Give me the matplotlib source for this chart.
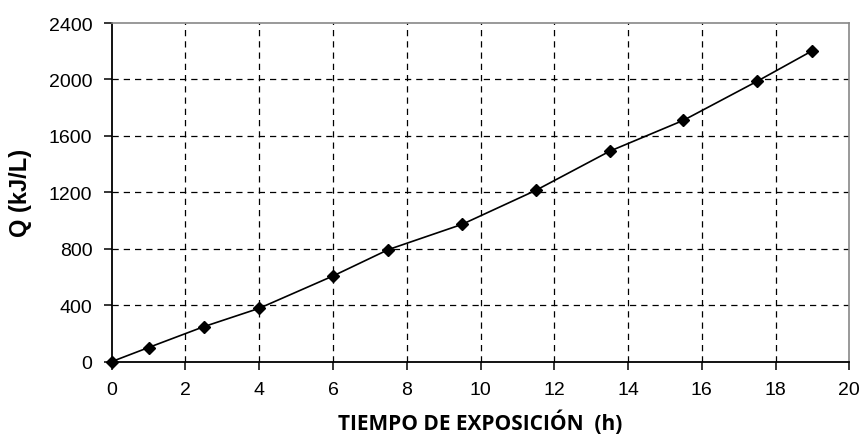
import matplotlib
matplotlib.use("agg")
import matplotlib.pyplot as plt

# data
tiempo_h = [0, 1, 2.5, 4, 6, 7.5, 9.5, 11.5, 13.5, 15.5, 17.5, 19]
q_kj_l = [0, 100, 248, 378, 607, 794, 973, 1214, 1491, 1710, 1987, 2204]

x_ticks = [0, 2, 4, 6, 8, 10, 12, 14, 16, 18, 20]
y_ticks = [0, 400, 800, 1200, 1600, 2000, 2400]

fig = plt.figure(figsize=(8.62, 4.39), dpi=100)
ax = fig.add_axes([0.1296, 0.174, 0.8557, 0.7713])

ax.plot(tiempo_h, q_kj_l, color="black", linewidth=1.2, marker="D",
        markersize=6.5, markerfacecolor="black", clip_on=False, zorder=3)

ax.set_xlim(0, 20)
ax.set_ylim(0, 2400)
ax.set_xticks(x_ticks)
ax.set_yticks(y_ticks)

ax.grid(True, color="black", linestyle=(0, (5, 4)), linewidth=0.9)
ax.set_axisbelow(True)
# no dashed lines on the frame itself
for gl in [ax.xaxis.get_gridlines()[0], ax.xaxis.get_gridlines()[-1],
           ax.yaxis.get_gridlines()[0], ax.yaxis.get_gridlines()[-1]]:
    gl.set_visible(False)

for side in ["top", "right"]:
    ax.spines[side].set_color("#888888")
    ax.spines[side].set_linewidth(1.2)
for side in ["left", "bottom"]:
    ax.spines[side].set_color("black")
    ax.spines[side].set_linewidth(1.3)

ax.tick_params(axis="both", direction="out", length=6, width=1.1, color="black",
               labelsize=14, pad=8)
for lab in ax.get_xticklabels() + ax.get_yticklabels():
    lab.set_fontfamily("Liberation Sans")

ax.set_xlabel("TIEMPO DE EXPOSICIÓN  (h)", fontfamily="Open Sans",
              fontweight="bold", fontsize=15, labelpad=8)
ax.set_ylabel("Q (kJ/L)", fontfamily="Liberation Sans", fontweight="bold",
              fontsize=17, labelpad=12)

fig.savefig("out.png", dpi=100)
